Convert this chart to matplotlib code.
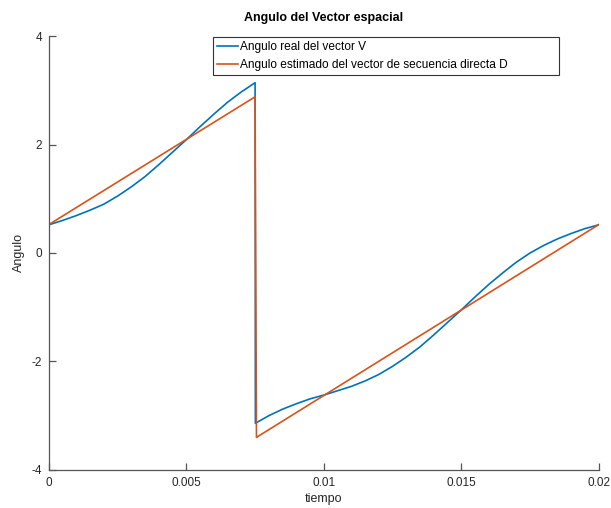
import matplotlib
matplotlib.use("Agg")
import matplotlib.pyplot as plt

plt.rcParams['font.family'] = ['Liberation Sans', 'DejaVu Sans']

# Time samples (s) and the real space-vector angle (rad)
t_real = [0.0, 0.0005, 0.001, 0.0015, 0.002, 0.0025, 0.003, 0.0035, 0.004, 0.0045,
          0.005, 0.0055, 0.006, 0.0065, 0.007, 0.0075,
          0.00751, 0.008, 0.0085, 0.009, 0.0095, 0.010, 0.0105, 0.011, 0.0115,
          0.012, 0.0125, 0.013, 0.0135, 0.014, 0.0145, 0.015, 0.0155, 0.016,
          0.0165, 0.017, 0.0175, 0.018, 0.0185, 0.019, 0.0195, 0.020]
ang_real = [0.52, 0.60, 0.69, 0.79, 0.90, 1.05, 1.22, 1.41, 1.63, 1.86,
            2.09, 2.33, 2.56, 2.78, 2.97, 3.14,
            -3.14, -3.00, -2.88, -2.78, -2.69, -2.62, -2.54, -2.46, -2.36,
            -2.24, -2.09, -1.92, -1.73, -1.51, -1.28, -1.05, -0.81, -0.58,
            -0.37, -0.17, 0.00, 0.14, 0.26, 0.36, 0.45, 0.52]

# Estimated angle of the positive-sequence vector
t_est = [0.0, 0.0075, 0.00755, 0.020]
ang_est = [0.524, 2.88, -3.40, 0.524]

x_ticks = [0, 0.005, 0.01, 0.015, 0.02]
x_tick_labels = ['0', '0.005', '0.01', '0.015', '0.02']
y_ticks = [-4, -2, 0, 2, 4]
y_tick_labels = ['-4', '-2', '0', '2', '4']

fig = plt.figure(figsize=(6.11, 5.08), dpi=100)
ax = fig.add_axes([0.080, 0.075, 0.900, 0.854])

ax.plot(t_real, ang_real, color='#0072BD', lw=1.2, label='Angulo real del vector V')
ax.plot(t_est, ang_est, color='#D95319', lw=1.2,
        label='Angulo estimado del vector de secuencia directa D')

ax.set_xlim(0, 0.02)
ax.set_ylim(-4, 4)
ax.set_xticks(x_ticks)
ax.set_xticklabels(x_tick_labels)
ax.set_yticks(y_ticks)
ax.set_yticklabels(y_tick_labels)

axis_color = '#262626'
for side in ('top', 'right'):
    ax.spines[side].set_visible(False)
for side in ('left', 'bottom'):
    ax.spines[side].set_color('#555555')
    ax.spines[side].set_linewidth(0.9)
ax.tick_params(direction='in', length=5, width=0.9, color='#555555',
               labelsize=8.5, labelcolor=axis_color, pad=5)

ax.set_title('Angulo del Vector espacial', fontsize=9, fontweight='bold',
             color='#000000', pad=11)
ax.set_xlabel('tiempo', fontsize=9, color=axis_color, labelpad=3)
ax.set_ylabel('Angulo', fontsize=9, color=axis_color, labelpad=5)

leg = ax.legend(loc='upper left', bbox_to_anchor=(0.298, 0.5, 0.63, 0.498),
                mode='expand', fontsize=8.6, frameon=True, fancybox=False,
                framealpha=1, edgecolor='#333333', handlelength=1.8,
                handletextpad=0.15, labelspacing=0.5, borderpad=0.35,
                borderaxespad=0.0)
leg.get_frame().set_linewidth(0.8)

fig.savefig('out.png', dpi=100)
